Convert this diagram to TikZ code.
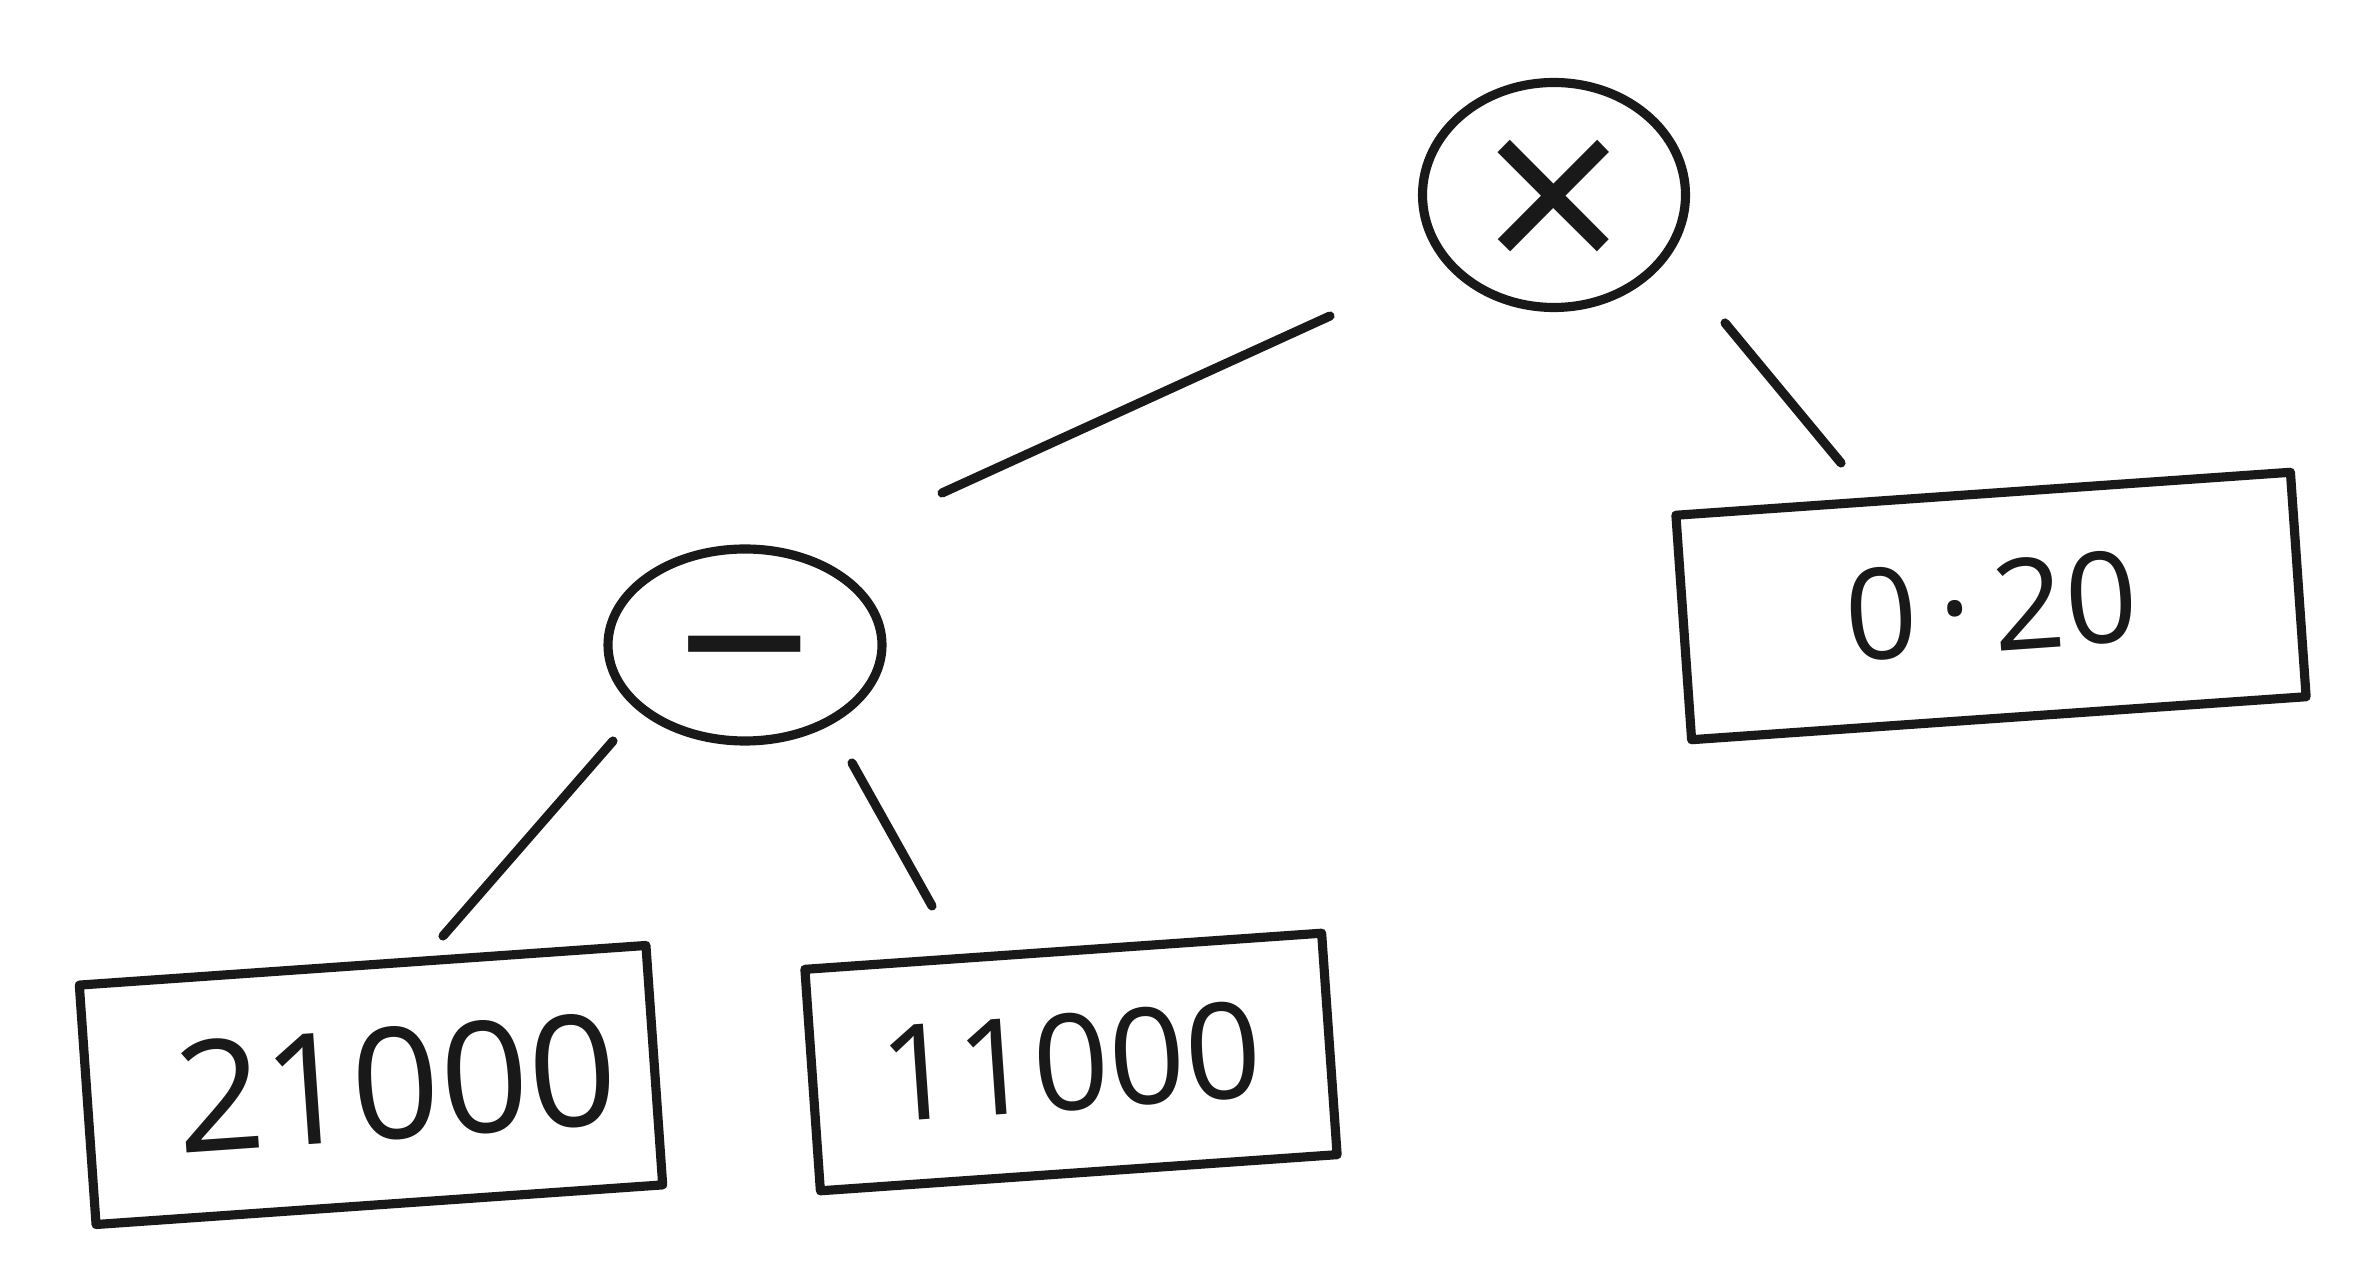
\documentclass[tikz,border=0pt]{standalone}
\usepackage{fontspec}
\setmainfont{Open Sans}
\usetikzlibrary{shapes.geometric,calc}
\begin{document}
\begin{tikzpicture}[
  ink/.style={line width=2.6pt, draw=black!90, line cap=round, line join=round},
  opnode/.style={ink, ellipse, inner sep=0pt, text=black!90},
  numbox/.style={ink, rectangle, inner sep=0pt, rotate=4, text=black!90},
  conn/.style={ink}
]
\useasboundingbox[fill=white] (0,0) rectangle (23.56,12.73);
% operator nodes
\node[opnode, minimum width=2.63cm, minimum height=2.25cm, font=\fontsize{72}{72}\selectfont] (times) at (15.54,10.78) {\raisebox{-0.18cm}[\height][\depth]{×}};
\node[opnode, minimum width=2.74cm, minimum height=1.92cm, font=\fontsize{68}{68}\selectfont] (minus) at (7.45,6.28) {\raisebox{-0.37cm}[\height][\depth]{−}};
% number boxes
\node[numbox, minimum width=6.16cm, minimum height=2.25cm, font=\fontsize{36}{40}\selectfont] (b020) at (19.91,6.67) {0\,\textperiodcentered\,20};
\node[numbox, minimum width=5.68cm, minimum height=2.40cm, font=\fontsize{44}{48}\selectfont] (b21) at (3.71,1.88) {\hspace*{0.5cm}21000};
\node[numbox, minimum width=5.18cm, minimum height=2.22cm, font=\fontsize{38}{42}\selectfont] (b11) at (10.71,2.11) {11000};
% connectors
\draw[conn] ($(minus.center)+(1.97,1.52)$) -- ($(times.center)+(-2.24,-1.21)$);
\draw[conn] ($(times.center)+(1.71,-1.28)$) -- ($(b020.center)+(-1.50,1.43)$);
\draw[conn] ($(minus.center)+(-1.32,-0.96)$) -- ($(b21.center)+(0.72,1.49)$);
\draw[conn] ($(minus.center)+(1.07,-1.18)$) -- ($(b11.center)+(-1.39,1.56)$);
\end{tikzpicture}
\end{document}
